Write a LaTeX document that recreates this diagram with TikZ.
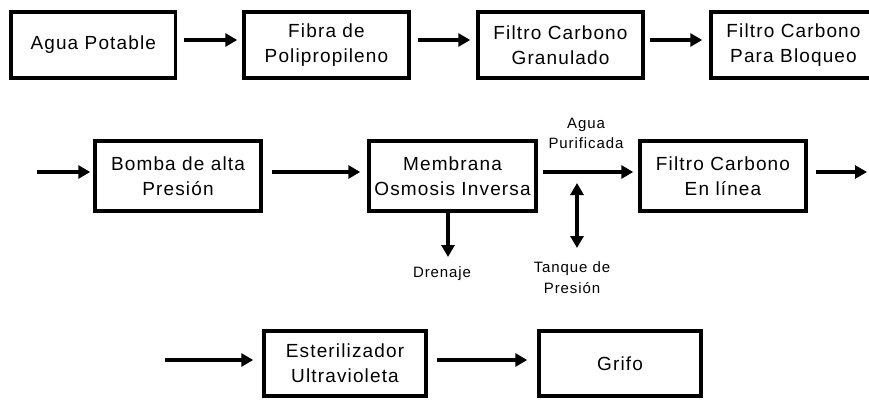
\documentclass[tikz,border=0pt]{standalone}
\usepackage{fontspec}
\usetikzlibrary{arrows.meta}
\newfontfamily\lsans[LetterSpace=6]{Liberation Sans}
\begin{document}
\begin{tikzpicture}[x=1pt,y=-1pt,
  stage/.style={draw, line width=3.5pt, inner sep=0pt, align=center,
    font=\lsans\fontsize{19}{25}\selectfont},
  flow/.style={line width=3.5pt, -{Triangle[length=12pt,width=13pt]}},
  twoway/.style={line width=3.5pt, {Triangle[length=12pt,width=13pt]}-{Triangle[length=12pt,width=13pt]}},
  lbl/.style={align=center, inner sep=0pt, font=\lsans\fontsize{15}{20}\selectfont}]
\useasboundingbox (0,0) rectangle (869,401);
\fill[white] (0,0) rectangle (869,401);
\clip (0,0) rectangle (869,401);
% row 1
\node[stage, minimum width=164.5pt, minimum height=66pt] (b1) at (93.25,45) {Agua Potable};
\node[stage, minimum width=165pt, minimum height=66pt] (b2) at (326.5,45) {Fibra de\\Polipropileno};
\node[stage, minimum width=165pt, minimum height=66pt] (b3) at (560.5,45) {Filtro Carbono\\Granulado};
\node[stage, minimum width=165pt, minimum height=66pt] (b4) at (793.5,45) {Filtro Carbono\\Para Bloqueo};
\coordinate (r1) at (0,40);
\draw[flow, shorten <=7pt, shorten >=5pt] (b1.east |- r1) -- (b2.west |- r1);
\draw[flow, shorten <=7pt, shorten >=6pt] (b2.east |- r1) -- (b3.west |- r1);
\draw[flow, shorten <=5pt, shorten >=7pt] (b3.east |- r1) -- (b4.west |- r1);
% row 2
\node[stage, minimum width=166pt, minimum height=70pt] (bomba) at (178,176) {Bomba de alta\\Presión};
\node[stage, minimum width=167pt, minimum height=70pt] (memb) at (452.5,176) {Membrana\\Osmosis Inversa};
\node[stage, minimum width=166pt, minimum height=70pt] (enl) at (723,176) {Filtro Carbono\\En línea};
\coordinate (in2) at (37,172);
\coordinate (out2) at (867,172);
\draw[flow, shorten >=3pt] (in2) -- (bomba.west |- in2);
\draw[flow, shorten <=9pt, shorten >=7pt] (bomba.east |- in2) -- (memb.west |- in2);
\draw[flow, shorten <=5pt, shorten >=5pt] (memb.east |- in2) -- (enl.west |- in2);
\draw[flow, shorten <=8pt] (enl.east |- in2) -- (out2);
\node[lbl] (agua) at (586,133) {Agua\\Purificada};
\coordinate (dren) at (448,257);
\draw[flow] (memb.south -| dren) -- (dren);
\node[lbl] (drenaje) at (442,274) {Drenaje};
\node[lbl, font=\lsans\fontsize{15}{21}\selectfont] (tanque) at (572,278) {Tanque de\\Presión};
\coordinate (tk) at (577,183);
\draw[twoway] (tk) -- (tk |- 0,248);
% row 3
\node[stage, minimum width=162pt, minimum height=65pt] (uv) at (345,363.5) {Esterilizador\\Ultravioleta};
\node[stage, minimum width=162pt, minimum height=65pt] (grifo) at (620,363.5) {Grifo};
\coordinate (in3) at (165,360);
\draw[flow, shorten >=9pt] (in3) -- (uv.west |- in3);
\draw[flow, shorten <=9pt, shorten >=10pt] (uv.east |- in3) -- (grifo.west |- in3);
\end{tikzpicture}
\end{document}
